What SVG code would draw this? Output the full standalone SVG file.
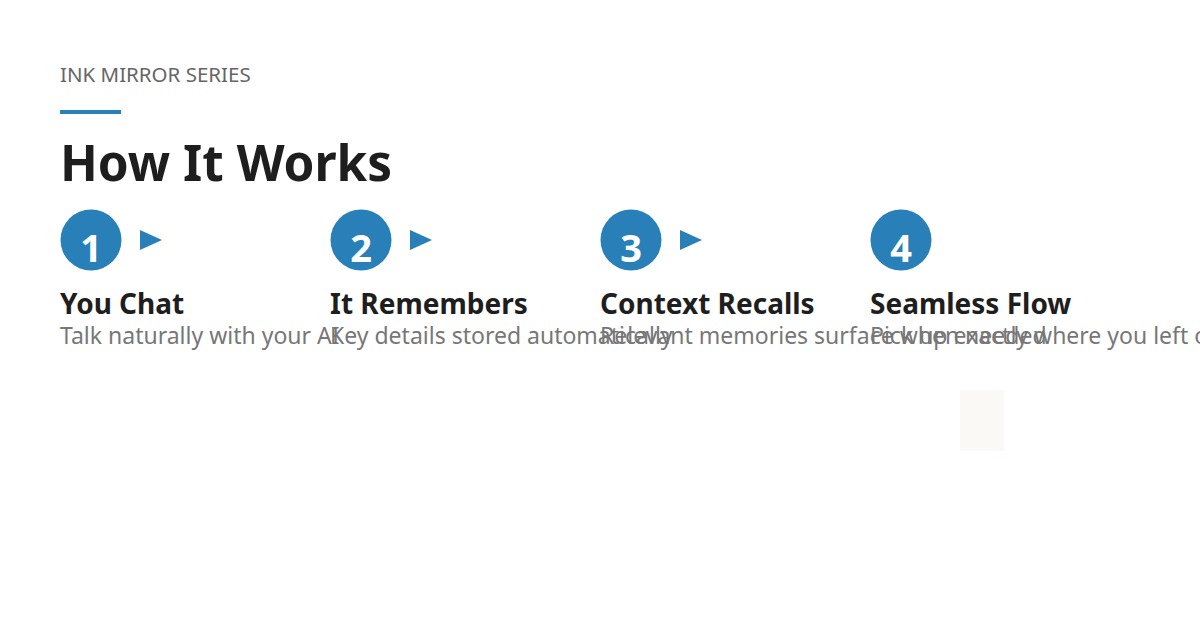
<svg xmlns="http://www.w3.org/2000/svg" width="1200" height="630" viewBox="0 0 1200 630">
<style>
.kicker{font-family:"Noto Sans","Open Sans",sans-serif;font-size:20.5px;fill:#666666}
.title{font-family:"Noto Sans","Open Sans",sans-serif;font-size:49.5px;font-weight:700;fill:#1e1e1e}
.num{font-family:"Noto Sans","Open Sans",sans-serif;font-size:38px;font-weight:700;fill:#ffffff;text-anchor:middle}
.stitle{font-family:"Noto Sans","Open Sans",sans-serif;font-size:28px;font-weight:700;fill:#1e1e1e}
.desc{font-family:"Noto Sans","Open Sans",sans-serif;font-size:23px;fill:#777777}
.circ{fill:#2980b9}
.arr{fill:#2980b9}
</style>
<rect width="1200" height="630" fill="#ffffff"/>
<text class="kicker" x="60" y="82">INK MIRROR SERIES</text>
<rect x="60" y="110" width="61" height="4" fill="#2980b9"/>
<text class="title" x="60" y="181">How It Works</text>
<g id="step1">
<circle class="circ" cx="91" cy="240" r="30.5"/>
<text class="num" x="91" y="262">1</text>
<text class="stitle" x="60" y="314">You Chat</text>
<text class="desc" x="60" y="344">Talk naturally with your AI</text>
</g>
<g id="step2">
<circle class="circ" cx="361" cy="240" r="30.5"/>
<text class="num" x="361" y="262">2</text>
<text class="stitle" x="330" y="314">It Remembers</text>
<text class="desc" x="330" y="344">Key details stored automatically</text>
</g>
<g id="step3">
<circle class="circ" cx="631" cy="240" r="30.5"/>
<text class="num" x="631" y="262">3</text>
<text class="stitle" x="600" y="314">Context Recalls</text>
<text class="desc" x="600" y="344">Relevant memories surface when needed</text>
</g>
<g id="step4">
<circle class="circ" cx="901" cy="240" r="30.5"/>
<text class="num" x="901" y="262">4</text>
<text class="stitle" x="870" y="314">Seamless Flow</text>
<text class="desc" x="870" y="344">Pick up exactly where you left off</text>
</g>
<g id="connectors">
<polygon class="arr" points="140,230 162,240 140,250"/>
<polygon class="arr" points="410,230 432,240 410,250"/>
<polygon class="arr" points="680,230 702,240 680,250"/>
</g>
<rect x="960" y="390" width="44" height="61" fill="#faf9f5"/>
</svg>
